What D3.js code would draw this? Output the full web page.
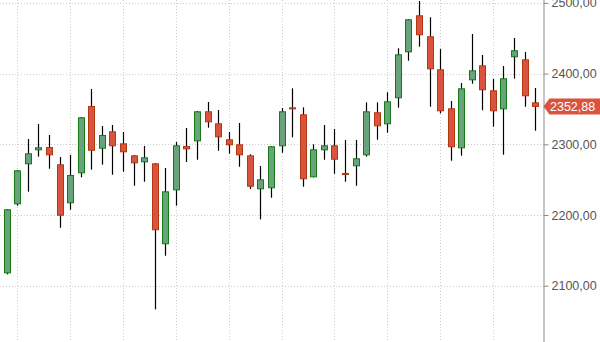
<!DOCTYPE html>
<html>
<head>
<meta charset="utf-8">
<script src="https://cdn.jsdelivr.net/npm/d3@7"></script>
<style>
  html, body { margin: 0; padding: 0; background: #ffffff; }
  svg { display: block; }
</style>
</head>
<body>
<svg id="chart" width="600" height="342"></svg>
<script>
// ---- data ----
const opens  = [2117.5, 2215.1, 2271.7, 2291.5, 2296.2, 2271.7, 2216.6, 2259.0, 2354.2, 2293.8,
                2318.4, 2301.4, 2284.4, 2274.5, 2273.1, 2158.6, 2234.9, 2297.6, 2304.2, 2346.7,
                2329.7, 2307.1, 2300.0, 2284.4, 2236.4, 2237.8, 2297.2, 2352.3, 2342.4, 2253.3,
                2291.5, 2298.6, 2259.4, 2268.9, 2284.4, 2345.3, 2328.3, 2365.1, 2430.1, 2482.5,
                2452.8, 2406.1, 2350.9, 2294.3, 2390.5, 2411.7, 2376.4, 2349.5, 2423.1, 2420.2,
                2359.4];
const highs  = [2208.5, 2263.7, 2307.5, 2328.7, 2313.2, 2282.0, 2284.9, 2338.6, 2378.2, 2325.9,
                2327.3, 2317.4, 2284.8, 2297.6, 2273.5, 2266.5, 2303.3, 2323.1, 2347.1, 2359.8,
                2348.5, 2317.4, 2330.1, 2285.9, 2269.3, 2297.6, 2351.3, 2379.2, 2352.3, 2300.0,
                2327.3, 2321.6, 2306.1, 2306.1, 2359.4, 2359.4, 2373.6, 2435.8, 2477.2, 2502.7,
                2479.6, 2434.8, 2361.2, 2386.7, 2456.0, 2426.3, 2392.4, 2410.7, 2450.4, 2430.6,
                2379.6];
const lows   = [2116.1, 2213.2, 2233.0, 2282.5, 2265.5, 2182.0, 2207.5, 2253.3, 2264.1, 2271.2,
                2257.0, 2261.2, 2241.4, 2247.1, 2066.6, 2142.4, 2213.2, 2275.0, 2278.2, 2323.5,
                2290.9, 2286.7, 2268.3, 2236.8, 2193.9, 2224.5, 2288.1, 2309.9, 2240.0, 2253.3,
                2278.2, 2258.4, 2247.1, 2241.4, 2282.5, 2306.5, 2316.4, 2351.8, 2418.2, 2438.0,
                2353.2, 2343.8, 2276.8, 2283.9, 2385.7, 2348.1, 2324.9, 2285.3, 2392.8, 2353.2,
                2319.2];
const closes = [2208.1, 2263.2, 2287.3, 2295.8, 2284.4, 2199.0, 2256.6, 2338.2, 2290.9, 2313.2,
                2297.2, 2288.7, 2273.1, 2281.6, 2178.4, 2233.5, 2298.6, 2292.9, 2346.7, 2331.1,
                2309.9, 2298.6, 2284.4, 2240.0, 2250.5, 2297.2, 2346.7, 2349.5, 2250.5, 2292.9,
                2298.6, 2278.2, 2257.0, 2280.2, 2346.7, 2325.5, 2360.8, 2427.3, 2476.8, 2454.2,
                2406.1, 2346.7, 2295.8, 2379.2, 2404.7, 2376.4, 2346.7, 2393.4, 2433.0, 2367.9,
                2352.88];
const yTicks = [2100, 2200, 2300, 2400, 2500];
const lastPrice = 2352.88;

// ---- layout ----
const W = 600, H = 342;
const axisX = 543.5;
const svg = d3.select("#chart");

const idx = d3.range(opens.length);
const x = d3.scalePoint().domain(idx).range([6.7, 535.2]);
const y = d3.scaleLinear().domain([2020.4, 2504.1]).range([H, 0]);

const fmt = v => d3.format(".2f")(v).replace(".", ",");

// background
svg.append("rect").attr("width", W).attr("height", H).attr("fill", "#ffffff");

// horizontal grid
svg.append("g").selectAll("line").data(yTicks).join("line")
  .attr("x1", 0).attr("x2", axisX)
  .attr("y1", d => Math.round(y(d)) + 0.5).attr("y2", d => Math.round(y(d)) + 0.5)
  .attr("stroke", "#cccccc").attr("stroke-dasharray", "1,2").attr("stroke-width", 1);

// vertical grid (every 5 candles)
const vgrid = idx.filter(i => i % 5 === 1);
svg.append("g").selectAll("line").data(vgrid).join("line")
  .attr("x1", d => Math.round(x(d)) + 0.5).attr("x2", d => Math.round(x(d)) + 0.5)
  .attr("y1", 0).attr("y2", H)
  .attr("stroke", "#cccccc").attr("stroke-dasharray", "1,2").attr("stroke-width", 1);

// candles
const candles = svg.append("g").selectAll("g").data(idx).join("g");
candles.append("line")
  .attr("x1", i => Math.round(x(i)) + 0.5).attr("x2", i => Math.round(x(i)) + 0.5)
  .attr("y1", i => y(highs[i])).attr("y2", i => y(lows[i]))
  .attr("stroke", "#000000").attr("stroke-width", 1.2);
candles.append("rect")
  .attr("x", i => Math.round(x(i)) - 2.5)
  .attr("width", 6)
  .attr("y", i => y(Math.max(opens[i], closes[i])) + 0.5)
  .attr("height", i => Math.max(1, Math.abs(y(opens[i]) - y(closes[i])) - 1))
  .attr("fill", i => closes[i] >= opens[i] ? "#68a37c" : "#d9533e")
  .attr("stroke", i => closes[i] >= opens[i] ? "#147a14" : "#b2380f")
  .attr("stroke-width", 1);

// right axis
const axisG = svg.append("g").attr("transform", `translate(${axisX},0)`);
const axis = d3.axisRight(y).tickValues(yTicks).tickFormat(fmt).tickSize(5).tickPadding(3);
axisG.call(axis);
axisG.select(".domain").attr("stroke", "#8a8a8a").attr("d", `M0.5,0V${H}`);
axisG.selectAll(".tick line").attr("stroke", "#8a8a8a");
axisG.selectAll(".tick text")
  .attr("fill", "#555555")
  .style("font-family", "'Liberation Sans', Arial, sans-serif")
  .style("font-size", "12.5px");

// last price label
const ly = y(lastPrice) - 0.5;
svg.append("path")
  .attr("d", `M${axisX},${ly} L${axisX + 6},${ly - 8} L${W},${ly - 8} L${W},${ly + 8} L${axisX + 6},${ly + 8} Z`)
  .attr("fill", "#d9533e");
svg.append("text")
  .attr("x", axisX + 6.5).attr("y", ly)
  .attr("dy", "0.36em")
  .attr("fill", "#ffffff")
  .style("font-family", "'Liberation Sans', Arial, sans-serif")
  .style("font-size", "12.5px")
  .text(fmt(lastPrice));
</script>
</body>
</html>
